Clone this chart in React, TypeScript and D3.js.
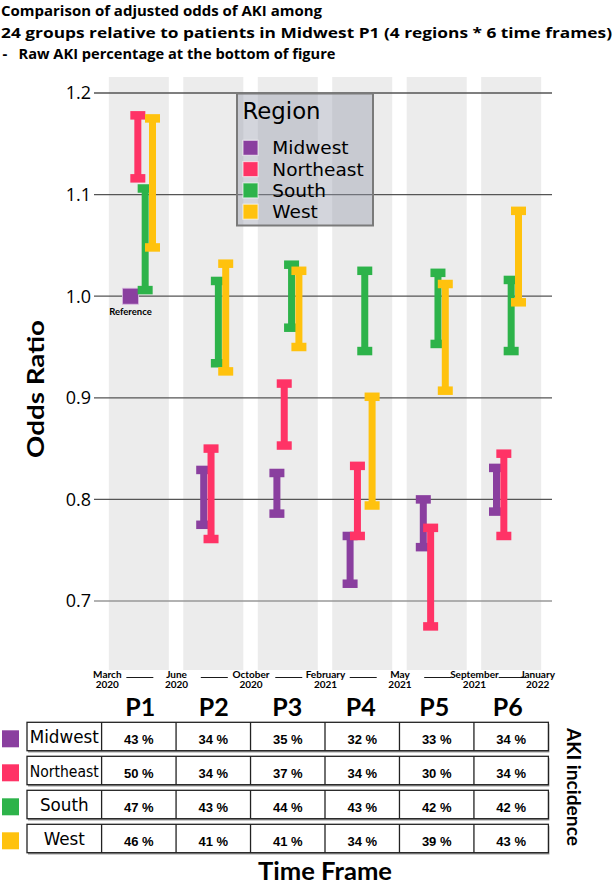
import React from "react";
import * as d3 from "d3";

const periods = ["P1", "P2", "P3", "P4", "P5", "P6"];
const regions = ["Midwest", "Northeast", "South", "West"];
const regionColors = ["#8a3f9f", "#ff3366", "#2db34a", "#ffc20e"];

// 95% CI bounds of adjusted odds ratio (Midwest P1 = reference)
const midwestLower = [null, 0.775, 0.786, 0.717, 0.753, 0.788];
const midwestUpper = [null, 0.829, 0.826, 0.764, 0.8, 0.831];
const northeastLower = [1.116, 0.761, 0.853, 0.764, 0.675, 0.764];
const northeastUpper = [1.178, 0.85, 0.914, 0.833, 0.772, 0.845];
const southLower = [1.006, 0.934, 0.969, 0.946, 0.953, 0.946];
const southUpper = [1.106, 1.015, 1.031, 1.025, 1.023, 1.016];
const westLower = [1.048, 0.926, 0.95, 0.794, 0.907, 0.994];
const westUpper = [1.175, 1.032, 1.025, 0.901, 1.012, 1.084];
const referenceValue = 1.0;

// Raw AKI incidence (%)
const akiMidwest = [43, 34, 35, 32, 33, 34];
const akiNortheast = [50, 34, 37, 34, 30, 34];
const akiSouth = [47, 43, 44, 43, 42, 42];
const akiWest = [46, 41, 41, 34, 39, 43];

const yTicks = [0.7, 0.8, 0.9, 1.0, 1.1, 1.2];
const boundaryMonths = ["March", "June", "October", "February", "May", "September", "January"];
const boundaryYears = ["2020", "2020", "2020", "2021", "2021", "2021", "2022"];

const titleLines = [
  "Comparison of adjusted odds of AKI among",
  "24 groups relative to patients in Midwest P1 (4 regions * 6 time frames)",
  "Raw AKI percentage at the bottom of figure",
];

const lowers = [midwestLower, northeastLower, southLower, westLower];
const uppers = [midwestUpper, northeastUpper, southUpper, westUpper];
const akis = [akiMidwest, akiNortheast, akiSouth, akiWest];

export default function App() {
  const W = 614;
  const H = 884;
  const y = d3.scaleLinear().domain([0.7, 1.2]).range([601, 93]);
  const band = d3.scaleBand<string>().domain(periods).range([101.6, 548.4]).paddingInner(0.194).paddingOuter(0.097);
  const col = d3.scaleBand<string>().domain(periods).range([101.6, 548.4]).padding(0);
  const group = d3.scalePoint<string>().domain(periods).range([141.5, 507.5]);
  const dodge = d3.scalePoint<string>().domain(regions).range([-11, 11]);
  const fmt = d3.format(".1f");
  const bw = band.bandwidth();

  const boundaryX = boundaryMonths.map((_, i) => {
    if (i === 0) return (band(periods[0]) as number) - 1.5;
    if (i === periods.length) return (band(periods[i - 1]) as number) + bw - 3.5;
    const e = (band(periods[i - 1]) as number) + bw;
    const s = band(periods[i]) as number;
    return (e + s) / 2 + 0.5;
  });

  const stemW = 7;
  const capW = 15;
  const capH = 8.5;

  const rowTop0 = 722.3;
  const rowStep = 34;
  const rowH = 28.4;
  const tableLeft = 27;
  const tableRight = 548.4;

  return (
    <svg width={W} height={H} style={{ position: "absolute", left: 0, top: 0, background: "#fff" }}>
      {/* Title */}
      <g fontFamily="Open Sans" fontWeight="bold" fontSize={14.8} fill="#000">
        <text x={1} y={16} textLength={321} lengthAdjust="spacingAndGlyphs">{titleLines[0]}</text>
        <text x={1} y={37.5} textLength={611} lengthAdjust="spacingAndGlyphs">{titleLines[1]}</text>
        <text x={2.5} y={58.5}>-</text>
        <text x={18.5} y={58.5} textLength={317} lengthAdjust="spacingAndGlyphs">{titleLines[2]}</text>
      </g>

      {/* Background period bands */}
      {periods.map((p) => (
        <rect key={p} x={band(p)} y={77} width={bw} height={593} fill="#ececec" />
      ))}

      {/* Gridlines and y ticks */}
      {yTicks.map((t) => (
        <g key={t}>
          <line x1={94} x2={552} y1={y(t)} y2={y(t)} stroke={t === 0.7 ? "#999" : "#555"} strokeWidth={1.3} />
          <text x={91} y={y(t)} dy="0.36em" textAnchor="end" fontFamily="Open Sans" fontSize={18} fill="#000">
            {fmt(t)}
          </text>
        </g>
      ))}

      {/* Y axis title */}
      <text
        transform={`translate(44,389) rotate(-90)`}
        textAnchor="middle"
        fontFamily="Lato"
        fontWeight="bold"
        fontSize={23}
        textLength={138}
        lengthAdjust="spacingAndGlyphs"
      >
        Odds Ratio
      </text>

      {/* Error bars */}
      {regions.map((r, ri) =>
        periods.map((p, pi) => {
          const lo = lowers[ri][pi];
          const hi = uppers[ri][pi];
          const cx = (group(p) as number) + (dodge(r) as number);
          const color = regionColors[ri];
          if (lo === null || hi === null) {
            return (
              <g key={r + p}>
                <rect x={cx - 8} y={y(referenceValue) - 8} width={16} height={16} fill={color} stroke="#d9b8e0" strokeWidth={0.8} />
                <text x={cx} y={y(referenceValue) + 19} textAnchor="middle" fontFamily="Lato" fontWeight="bold" fontSize={9.5}>
                  Reference
                </text>
              </g>
            );
          }
          const yt = y(hi);
          const yb = y(lo);
          return (
            <g key={r + p} fill={color}>
              <rect x={cx - stemW / 2} y={yt} width={stemW} height={yb - yt} />
              <rect x={cx - capW / 2} y={yt - capH / 2} width={capW} height={capH} />
              <rect x={cx - capW / 2} y={yb - capH / 2} width={capW} height={capH} />
            </g>
          );
        })
      )}

      {/* Legend */}
      <g>
        <rect x={237} y={93.5} width={136} height={132} fill="rgb(150,155,172)" fillOpacity={0.42} stroke="#7a7a7a" strokeWidth={2} />
        <text x={242.5} y={119.3} fontFamily="DejaVu Sans" fontSize={22.8} fill="#000">Region</text>
        {regions.map((r, i) => (
          <g key={r}>
            <rect x={243} y={140.3 + i * 21.3} width={15} height={15} fill={regionColors[i]} stroke="#ffffff" strokeOpacity={0.6} strokeWidth={1.2} />
            <text x={272.3} y={154.3 + i * 21.3} fontFamily="DejaVu Sans" fontSize={18.5} fill="#000">{r}</text>
          </g>
        ))}
      </g>

      {/* Period boundary labels */}
      <g fontFamily="Lato" fontWeight="bold" fontSize={10} textAnchor="middle">
        {boundaryMonths.map((m, i) => (
          <g key={m}>
            <text x={boundaryX[i]} y={677.5}>{m}</text>
            <text x={boundaryX[i]} y={688}>{boundaryYears[i]}</text>
          </g>
        ))}
      </g>
      {periods.map((p) => {
        const c = (col(p) as number) + col.bandwidth() / 2 + 1;
        return <line key={p} x1={c - 13.5} x2={c + 13.5} y1={677.5} y2={677.5} stroke="#000" strokeWidth={0.9} />;
      })}

      {/* Period labels */}
      <g fontFamily="Lato" fontWeight="bold" fontSize={25} textAnchor="middle">
        {periods.map((p, i) => (
          <text key={p} x={(col(p) as number) + col.bandwidth() / 2 + 1.5 - i * 1} y={716}>{p}</text>
        ))}
      </g>

      {/* Table */}
      {regions.map((r, ri) => {
        const top = rowTop0 + ri * rowStep;
        return (
          <g key={r}>
            <rect x={2} y={top + 8} width={17} height={17} fill={regionColors[ri]} />
            <rect x={tableLeft + 1} y={top + 1.8} width={tableRight - tableLeft} height={rowH} fill="#9a9a9a" />
            <rect x={tableLeft} y={top} width={tableRight - tableLeft} height={rowH} fill="#fff" stroke="#222" strokeWidth={1.3} />
            {periods.map((p) => (
              <line key={p} x1={col(p)} x2={col(p)} y1={top} y2={top + rowH} stroke="#222" strokeWidth={1.3} />
            ))}
            <text
              x={64.3}
              y={top + 20.4}
              textAnchor="middle"
              fontFamily="DejaVu Sans"
              fontSize={r === "Northeast" ? 16 : 16.8}
              textLength={r === "Northeast" ? 69 : undefined}
              lengthAdjust="spacingAndGlyphs"
            >
              {r}
            </text>
            {periods.map((p, pi) => (
              <text
                key={p}
                x={(col(p) as number) + col.bandwidth() / 2}
                y={top + 21.2}
                textAnchor="middle"
                fontFamily="Liberation Sans"
                fontWeight="bold"
                fontSize={13}
              >
                {`${akis[ri][pi]} %`}
              </text>
            ))}
          </g>
        );
      })}

      {/* Right side label */}
      <text
        transform={`translate(567,787) rotate(90)`}
        textAnchor="middle"
        fontFamily="Lato"
        fontWeight="bold"
        fontSize={18}
        textLength={118}
        lengthAdjust="spacingAndGlyphs"
      >
        AKI incidence
      </text>

      {/* X axis title */}
      <text x={325} y={880} textAnchor="middle" fontFamily="Lato" fontWeight="bold" fontSize={25} textLength={134} lengthAdjust="spacingAndGlyphs">
        Time Frame
      </text>
    </svg>
  );
}
